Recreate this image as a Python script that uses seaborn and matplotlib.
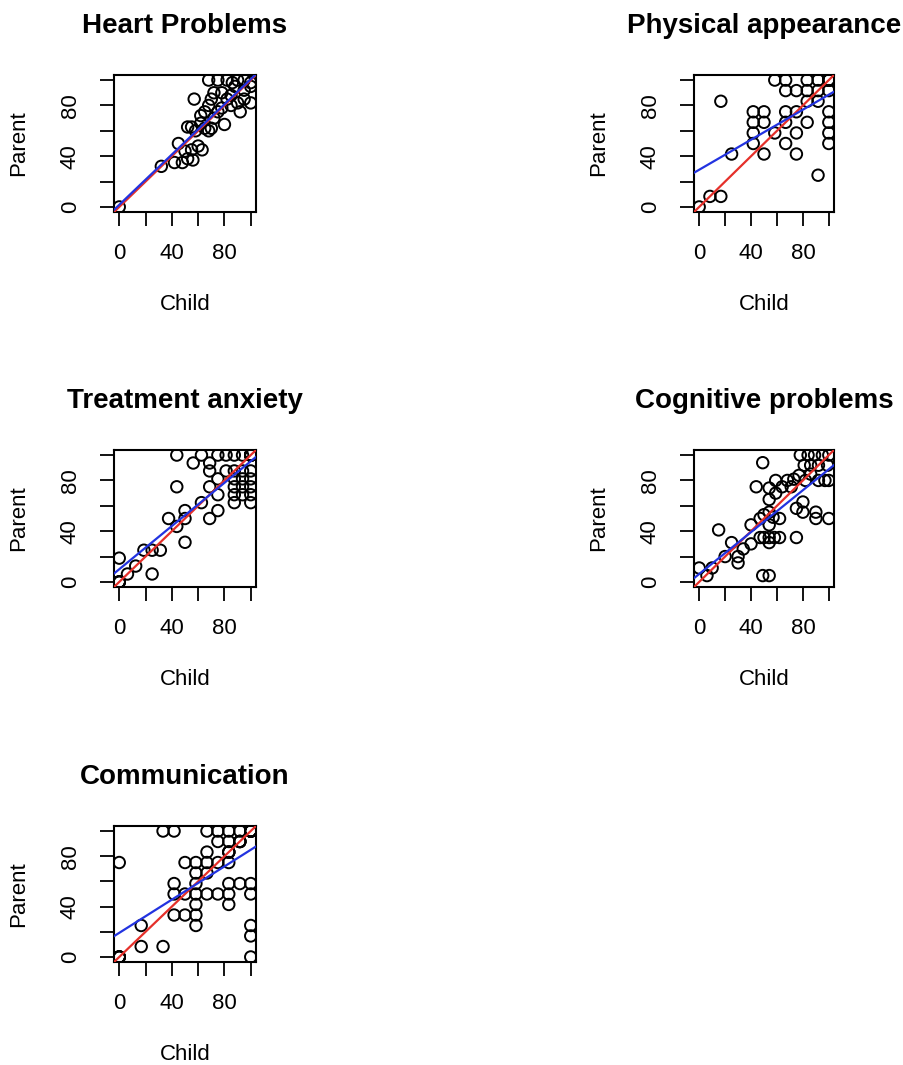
import matplotlib
matplotlib.use("Agg")
import matplotlib.pyplot as plt
import seaborn as sns
import numpy as np

plt.rcParams['font.family'] = ['Liberation Sans', 'DejaVu Sans']

titles = ["Heart Problems", "Physical appearance", "Treatment anxiety",
          "Cognitive problems", "Communication"]

heart_child = [0, 32, 42, 48, 52, 56, 45, 50, 55, 60, 63, 52, 55, 58, 62, 65, 68, 70,
               57, 62, 65, 68, 70, 72, 68, 75, 82, 86, 90, 95, 100, 78, 82, 85, 90, 95,
               100, 92, 80, 75, 85, 95, 100, 88, 78, 72]
heart_parent = [0, 32, 35, 35, 38, 37, 50, 44, 45, 48, 45, 63, 63, 60, 66, 62, 60, 62,
                85, 72, 75, 80, 85, 90, 100, 100, 100, 98, 100, 100, 98, 90, 85, 80, 82, 85,
                82, 75, 65, 75, 88, 92, 95, 95, 78, 70]

# overlapping (tied) observations are listed repeatedly
phys_child = [0, 8.3, 16.7, 16.7, 25, 41.7, 50, 41.7, 50, 41.7, 41.7, 50, 58.3, 66.7,
              66.7, 66.7, 75, 75, 75, 83.3, 58.3, 66.7, 66.7, 75, 83.3, 83.3, 91.7, 91.7,
              100, 100, 83.3, 91.7, 91.7, 100, 100, 100, 100,
              100, 100, 100, 100, 100]
phys_parent = [0, 8.3, 8.3, 83.3, 41.7, 75, 75, 66.7, 66.7, 58.3, 50, 41.7, 58.3, 75,
               66.7, 50, 75, 58.3, 41.7, 66.7, 100, 100, 91.7, 91.7, 100, 91.7, 100, 91.7,
               100, 91.7, 83.3, 83.3, 25, 75, 66.7, 58.3, 50,
               100, 100, 100, 100, 100]

anx_child = [0, 0, 6.25, 12.5, 18.75, 25, 31.25, 25, 37.5, 43.75, 43.75, 43.75, 50, 50,
             50, 56.25, 62.5, 68.75, 68.75, 68.75, 75, 75, 62.5, 75, 81.25, 87.5, 93.75,
             100, 81.25, 87.5, 93.75, 100, 87.5, 93.75, 100, 87.5, 93.75, 100, 87.5, 93.75,
             100, 87.5, 100, 75, 68.75,
             100, 100, 100, 100, 100, 100, 100, 100, 100, 100, 0, 0, 0]
anx_parent = [0, 18.75, 6.25, 12.5, 25, 25, 25, 6.25, 50, 75, 100, 43.75, 56.25, 50,
              31.25, 93.75, 62.5, 87.5, 75, 50, 56.25, 68.75, 100, 100, 100, 100, 100,
              100, 87.5, 87.5, 87.5, 87.5, 81.25, 81.25, 81.25, 75, 75, 75, 68.75, 68.75,
              68.75, 62.5, 62.5, 81.25, 93.75,
              100, 100, 100, 100, 100, 100, 100, 100, 100, 100, 0, 0, 0]

cog_child = [0, 6, 10, 15, 20, 25, 30, 30, 34, 40, 40, 47, 50, 54, 58, 62, 54, 75, 49, 54,
             49, 44, 47, 50, 54, 54, 54, 57, 62, 54, 59, 59, 64, 68, 71, 73, 75, 80, 80,
             90, 90, 100, 77, 82, 86, 78, 84, 89, 95, 100, 81, 86, 92, 99, 92, 97, 100]
cog_parent = [11, 5, 11, 41, 20, 31, 20, 15, 26, 30, 45, 35, 35, 35, 35, 35, 31, 35, 5, 5,
              94, 75, 50, 53, 55, 45, 65, 51, 50, 74, 80, 70, 75, 80, 75, 81, 58, 63, 55,
              55, 50, 50, 84, 80, 85, 100, 100, 100, 100, 100, 92, 92, 92, 92, 80, 80, 80]

comm_child = [0, 0, 16.7, 16.7, 33.3, 33.3, 41.7, 41.7, 41.7, 41.7, 50, 58.3, 50, 58.3,
              66.7, 75, 83.3, 50, 58.3, 66.7, 75, 83.3, 58.3, 66.7, 58.3, 58.3, 58.3, 66.7,
              66.7, 75, 83.3, 91.7, 100, 75, 83.3, 91.7, 83.3, 83.3, 91.7, 100, 83.3, 100,
              100, 100, 100,
              100, 100, 100, 100, 100, 100, 100, 100, 100, 100, 91.7, 91.7, 91.7,
              83.3, 83.3, 0, 0, 0, 0]
comm_parent = [0, 75, 25, 8.3, 8.3, 100, 100, 58.3, 50, 33.3, 33.3, 33.3, 50, 50, 50, 50,
               50, 75, 75, 75, 75, 75, 66.7, 66.7, 58.3, 41.7, 25, 83.3, 100, 100, 100, 100,
               100, 91.7, 91.7, 91.7, 83.3, 58.3, 58.3, 58.3, 41.7, 50, 25, 16.7, 0,
               100, 100, 100, 100, 100, 100, 100, 100, 100, 100, 91.7, 91.7, 91.7,
               83.3, 83.3, 0, 0, 0, 0]

datasets = [(heart_child, heart_parent), (phys_child, phys_parent),
            (anx_child, anx_parent), (cog_child, cog_parent), (comm_child, comm_parent)]

ticks = [0, 20, 40, 60, 80, 100]
tick_labels = ["0", "", "40", "", "80", ""]

W, H = 904, 1065
boxes = [(114, 75, 256, 212), (694, 75, 834, 212),
         (114, 450, 256, 587), (694, 450, 834, 587),
         (114, 826, 256, 962)]

RED = "#E5302A"
BLUE = "#2233E0"

fig = plt.figure(figsize=(W / 100, H / 100), dpi=100)
for (l, t, r, b), title, (cx, py) in zip(boxes, titles, datasets):
    ax = fig.add_axes([l / W, 1 - b / H, (r - l) / W, (b - t) / H])
    ax.set_xlim(-4, 104)
    ax.set_ylim(-4, 104)
    sns.scatterplot(x=cx, y=py, ax=ax, marker='o', s=68, facecolors='none',
                    edgecolor='black', linewidth=1.4, zorder=2)
    ax.axline((0, 0), slope=1, color=RED, lw=1.6, zorder=3)
    ax.set_xlim(-4, 104)
    sns.regplot(x=cx, y=py, ax=ax, scatter=False, ci=None, truncate=False,
                line_kws=dict(color=BLUE, lw=1.6, zorder=4))
    ax.set_xlim(-4, 104)
    ax.set_ylim(-4, 104)
    ax.set_xticks(ticks)
    ax.set_xticklabels(tick_labels)
    ax.set_yticks(ticks)
    ax.set_yticklabels(tick_labels, rotation=90, va='center')
    ax.tick_params(length=10, width=1.3, pad=12, labelsize=16, colors='black')
    ax.tick_params(axis='y', pad=14)
    for s in ax.spines.values():
        s.set_linewidth(1.5)
        s.set_color('black')
    ax.set_title(title, fontsize=20, fontweight='bold', pad=30)
    ax.set_xlabel("Child", fontsize=16, labelpad=22)
    ax.set_ylabel("Parent", fontsize=16, labelpad=22)

fig.savefig("out.png", dpi=100, facecolor='white')
